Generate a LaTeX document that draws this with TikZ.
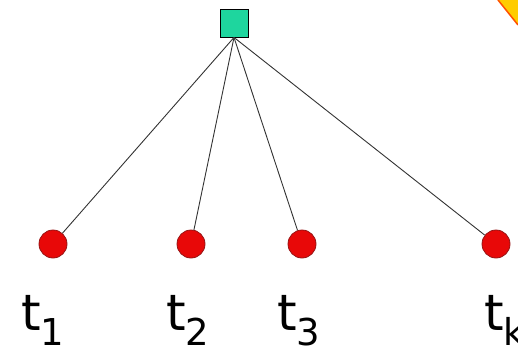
\documentclass[tikz,border=0pt]{standalone}
\usepackage{fontspec}
\setmainfont{DejaVu Sans}
\usepackage{tikz}
\usetikzlibrary{positioning}
\definecolor{rootgreen}{RGB}{30,214,158}
\definecolor{leafred}{RGB}{232,8,8}
\definecolor{leafedge}{RGB}{150,20,20}
\definecolor{cornerfill}{RGB}{255,204,0}
\definecolor{corneredge}{RGB}{255,80,0}
\tikzstyle{root} = [rectangle, draw=black, fill=rootgreen, minimum size=28pt, inner sep=0pt, line width=0.9pt]
\tikzstyle{leaf} = [circle, draw=leafedge, fill=leafred, minimum size=28pt, inner sep=0pt, line width=0.8pt]
\tikzstyle{edge} = [draw=black!80, line width=0.9pt]
\tikzstyle{lbl} = [anchor=base west, inner sep=0pt, font=\fontsize{50}{60}\selectfont]
\newcommand{\tlabel}[1]{t\raisebox{-15pt}{\fontsize{37}{44}\selectfont #1}}

\begin{document}
\begin{tikzpicture}[x=1pt, y=-1pt]
  \useasboundingbox (0,0) rectangle (518,350);
  % corner of the slide
  \fill[cornerfill] (498,0) -- (518,0) -- (518,25) -- cycle;
  \draw[corneredge, line width=1.5pt] (498,0) -- (518,25);

  \node[root] (r) at (234,23) {};
  \node[leaf] (t1) at (53,244) {};
  \node[leaf] (t2) at (191,244) {};
  \node[leaf] (t3) at (302,244) {};
  \node[leaf] (tk) at (496,244) {};

  \foreach \n in {t1,t2,t3,tk}
    \draw[edge] (r.south) -- (\n);

  \node[lbl] (l1) at (21,330) {\tlabel{1}};
  \node[lbl] (l2) at (166,330) {\tlabel{2}};
  \node[lbl] (l3) at (277,330) {\tlabel{3}};
  \node[lbl] (lk) at (484,330) {\tlabel{k}};
\end{tikzpicture}
\end{document}
